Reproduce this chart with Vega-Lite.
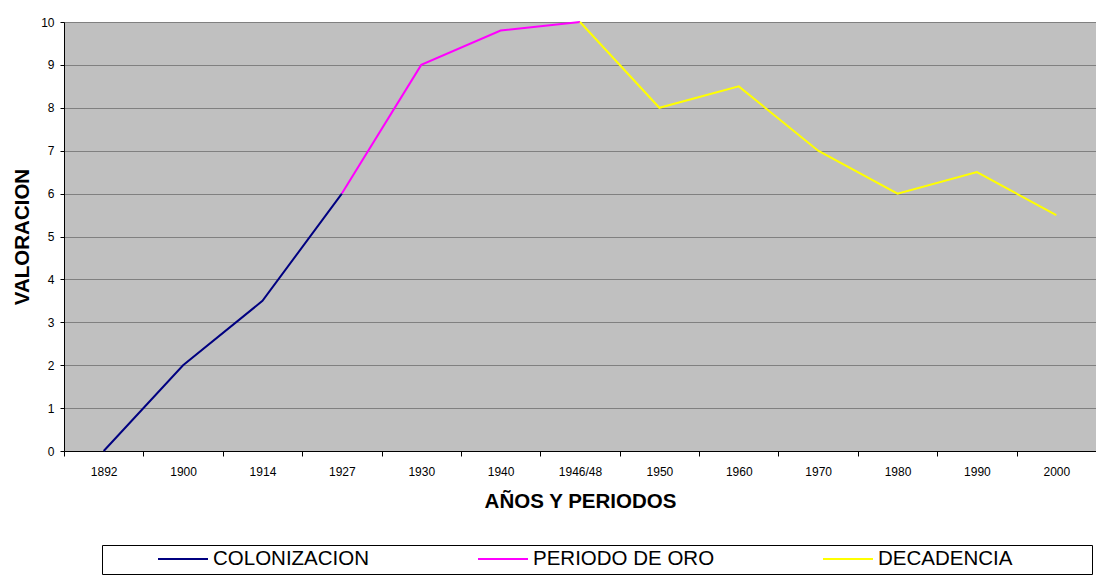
{
  "$schema": "https://vega.github.io/schema/vega-lite/v6.json",
  "width": 1032,
  "height": 429,
  "autosize": {"type": "none"},
  "padding": {"left": 64, "top": 22, "right": 0, "bottom": 124},
  "background": "white",
  "config": {
    "font": "Liberation Sans",
    "view": {"stroke": null, "fill": "#C0C0C0"}
  },
  "data": {
    "values": [
      {"periodo": "1892", "valor": 0, "serie": "COLONIZACION"},
      {"periodo": "1900", "valor": 2, "serie": "COLONIZACION"},
      {"periodo": "1914", "valor": 3.5, "serie": "COLONIZACION"},
      {"periodo": "1927", "valor": 6, "serie": "COLONIZACION"},
      {"periodo": "1927", "valor": 6, "serie": "PERIODO DE ORO"},
      {"periodo": "1930", "valor": 9, "serie": "PERIODO DE ORO"},
      {"periodo": "1940", "valor": 9.8, "serie": "PERIODO DE ORO"},
      {"periodo": "1946/48", "valor": 10, "serie": "PERIODO DE ORO"},
      {"periodo": "1946/48", "valor": 10, "serie": "DECADENCIA"},
      {"periodo": "1950", "valor": 8, "serie": "DECADENCIA"},
      {"periodo": "1960", "valor": 8.5, "serie": "DECADENCIA"},
      {"periodo": "1970", "valor": 7, "serie": "DECADENCIA"},
      {"periodo": "1980", "valor": 6, "serie": "DECADENCIA"},
      {"periodo": "1990", "valor": 6.5, "serie": "DECADENCIA"},
      {"periodo": "2000", "valor": 5.5, "serie": "DECADENCIA"}
    ]
  },
  "mark": {"type": "line", "strokeWidth": 2},
  "encoding": {
    "x": {
      "field": "periodo",
      "type": "ordinal",
      "sort": ["1892", "1900", "1914", "1927", "1930", "1940", "1946/48", "1950", "1960", "1970", "1980", "1990", "2000"],
      "scale": {"type": "band", "paddingInner": 0, "paddingOuter": 0},
      "axis": {
        "title": "AÑOS Y PERIODOS",
        "titleFont": "Liberation Sans",
        "titleFontSize": 20.5,
        "titleFontWeight": "bold",
        "titleColor": "black",
        "titlePadding": 14,
        "labelAngle": 0,
        "labelFontSize": 12,
        "labelColor": "black",
        "labelPadding": 10,
        "tickBand": "extent",
        "tickSize": 5,
        "tickColor": "black",
        "domainColor": "black",
        "grid": false
      }
    },
    "y": {
      "field": "valor",
      "type": "quantitative",
      "scale": {"domain": [0, 10], "nice": false},
      "axis": {
        "title": "VALORACION",
        "titleFont": "Liberation Sans",
        "titleFontSize": 20.5,
        "titleFontWeight": "bold",
        "titleColor": "black",
        "titlePadding": 8,
        "values": [0, 1, 2, 3, 4, 5, 6, 7, 8, 9, 10],
        "labelOverlap": false,
        "labelFontSize": 12,
        "labelColor": "black",
        "labelPadding": 6,
        "tickSize": 4,
        "tickColor": "black",
        "domainColor": "black",
        "gridColor": "#808080",
        "gridOpacity": 1
      }
    },
    "color": {
      "field": "serie",
      "type": "nominal",
      "sort": ["COLONIZACION", "PERIODO DE ORO", "DECADENCIA"],
      "scale": {"domain": ["COLONIZACION", "PERIODO DE ORO", "DECADENCIA"], "range": ["#000080", "#FF00FF", "#FFFF00"]},
      "legend": {
        "title": " ",
        "titleOrient": "left",
        "titleFontSize": 1,
        "titlePadding": 51,
        "orient": "none",
        "legendX": 38,
        "legendY": 523,
        "direction": "horizontal",
        "columns": 3,
        "gridAlign": "none",
        "columnPadding": 107,
        "symbolType": "stroke",
        "symbolSize": 2500,
        "symbolStrokeWidth": 2,
        "clipHeight": 20,
        "labelFontSize": 20.5,
        "labelLimit": 300,
        "labelColor": "black",
        "labelOffset": 4,
        "labelExpr": "datum.label == 'DECADENCIA' ? datum.label + '\u2800\u2800\u2800\u2800\u2800' : datum.label",
        "strokeColor": "black",
        "fillColor": "white",
        "padding": 4,
        "cornerRadius": 0
      }
    }
  }
}
